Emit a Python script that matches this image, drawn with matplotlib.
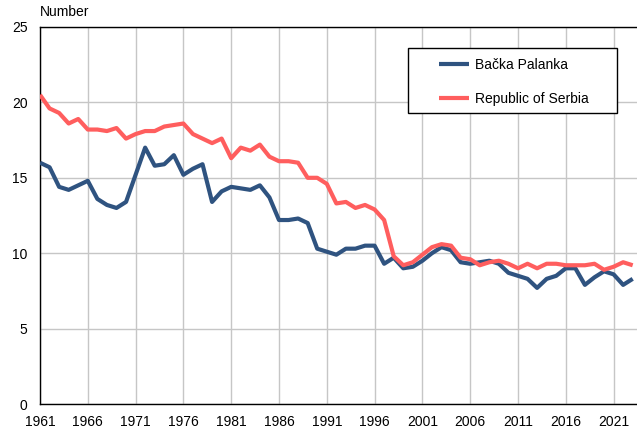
import matplotlib
matplotlib.use("Agg")
import matplotlib.pyplot as plt
from matplotlib.patches import Rectangle
import numpy as np

plt.rcParams["font.family"] = ["Liberation Sans", "DejaVu Sans"]

years = np.arange(1961, 2024)

backa_palanka = [
    16.0, 15.7, 14.4, 14.2, 14.5, 14.8, 13.6, 13.2, 13.0, 13.4,
    15.2, 17.0, 15.8, 15.9, 16.5, 15.2, 15.6, 15.9, 13.4, 14.1,
    14.4, 14.3, 14.2, 14.5, 13.7, 12.2, 12.2, 12.3, 12.0, 10.3,
    10.1, 9.9, 10.3, 10.3, 10.5, 10.5, 9.3, 9.7, 9.0, 9.1,
    9.5, 10.0, 10.4, 10.2, 9.4, 9.3, 9.4, 9.5, 9.3, 8.7,
    8.5, 8.3, 7.7, 8.3, 8.5, 9.0, 9.0, 7.9, 8.4, 8.8,
    8.6, 7.9, 8.3,
]

republic_of_serbia = [
    20.5, 19.6, 19.3, 18.6, 18.9, 18.2, 18.2, 18.1, 18.3, 17.6,
    17.9, 18.1, 18.1, 18.4, 18.5, 18.6, 17.9, 17.6, 17.3, 17.6,
    16.3, 17.0, 16.8, 17.2, 16.4, 16.1, 16.1, 16.0, 15.0, 15.0,
    14.6, 13.3, 13.4, 13.0, 13.2, 12.9, 12.2, 9.8, 9.2, 9.4,
    9.9, 10.4, 10.6, 10.5, 9.7, 9.6, 9.2, 9.4, 9.5, 9.3,
    9.0, 9.3, 9.0, 9.3, 9.3, 9.2, 9.2, 9.2, 9.3, 8.9,
    9.1, 9.4, 9.2,
]

series_labels = ["Bačka Palanka", "Republic of Serbia"]
series_colors = ["#2f5380", "#ff5e5e"]
x_ticks = list(range(1961, 2022, 5))
y_ticks = [0, 5, 10, 15, 20, 25]

fig = plt.figure(figsize=(6.37, 4.28), dpi=100)
ax = fig.add_axes([40 / 637, 24 / 428, 597 / 637, 377 / 428])

for values, label, color in zip([backa_palanka, republic_of_serbia], series_labels, series_colors):
    ax.plot(years, values, color=color, linewidth=3.0, label=label,
            solid_joinstyle="round", solid_capstyle="butt", zorder=3)

ax.set_xlim(1961, 2023.45)
ax.set_ylim(0, 25)
ax.set_xticks(x_ticks)
ax.set_yticks(y_ticks)
ax.grid(True, color="#c6c6c6", linewidth=1.0)
ax.set_axisbelow(True)
ax.tick_params(axis="both", length=0, labelsize=10)
ax.tick_params(axis="x", pad=8)
ax.tick_params(axis="y", pad=9)

for side in ["left", "bottom", "top"]:
    ax.spines[side].set_color("black")
    ax.spines[side].set_linewidth(1.0)
ax.spines["right"].set_visible(False)

ax.text(0.0, 1.021, "Number", transform=ax.transAxes, ha="left", va="bottom",
        fontsize=10)

frame = Rectangle((0.616, 0.772), 0.350, 0.172, transform=ax.transAxes,
                  facecolor="white", edgecolor="black", linewidth=1.0, zorder=4)
ax.add_patch(frame)
leg = ax.legend(loc="upper left", bbox_to_anchor=(0.669, 0.918), frameon=False,
                fontsize=10, handlelength=2.1, handletextpad=0.45,
                labelspacing=1.45, borderpad=0, borderaxespad=0)
leg.set_zorder(5)

fig.savefig("out.png", dpi=100)
